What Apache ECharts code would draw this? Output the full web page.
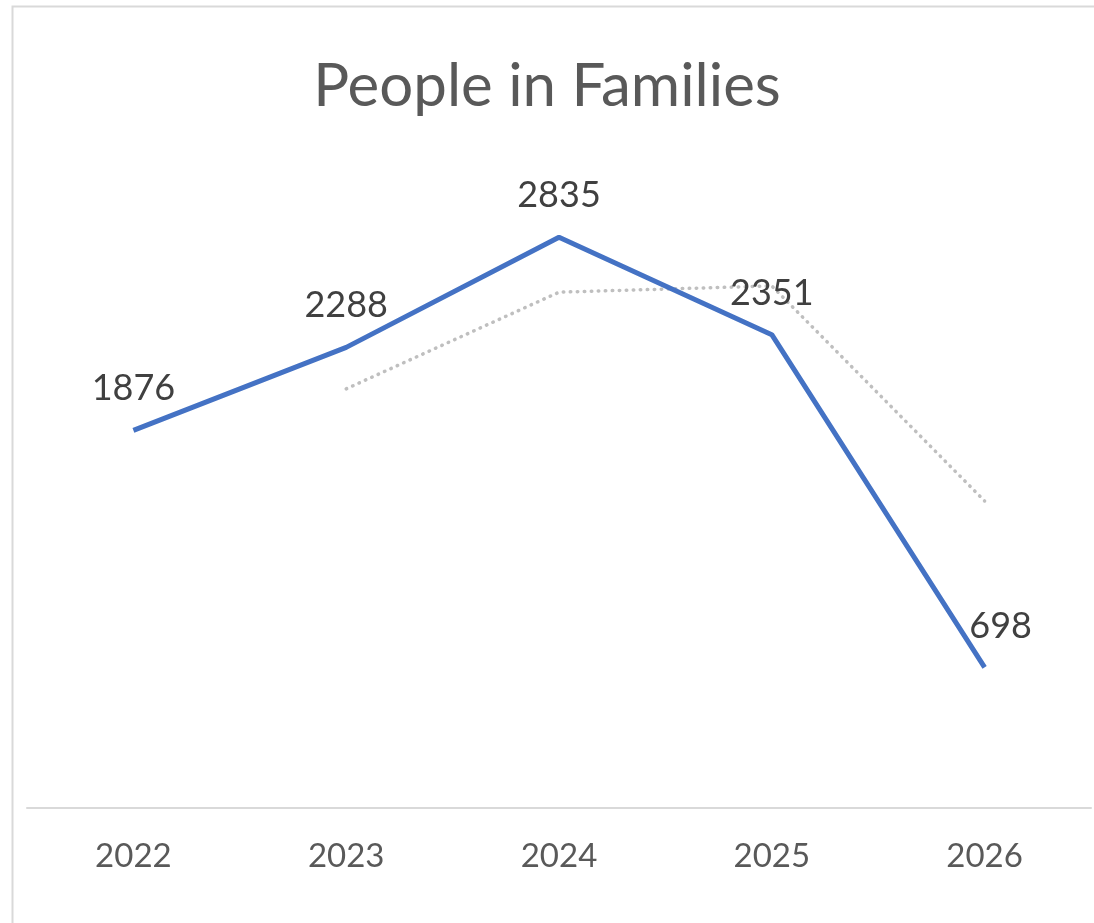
<!DOCTYPE html>
<html>
<head>
<meta charset="utf-8">
<script src="https://cdn.jsdelivr.net/npm/echarts@6/dist/echarts.min.js"></script>
<style>html,body{margin:0;padding:0;background:#fff;}#c{width:1094px;height:923px;}</style>
</head>
<body>
<div id="c"></div>
<script>
const categories = ['2022', '2023', '2024', '2025', '2026'];
const values = [1876, 2288, 2835, 2351, 698];
// 2-period moving average trendline
const trendValues = [null, 2082, 2562, 2593, 1525];
const titleText = 'People in Families';

const chart = echarts.init(document.getElementById('c'), null, {renderer: 'canvas'});
const FONT = 'Lato, "Open Sans", sans-serif';
const labelOffsets = [[0, 0], [0, 0], [0, 0], [0, 0], [16, 0]];
chart.setOption({
  animation: false,
  backgroundColor: '#fff',
  graphic: [{
    type: 'rect', left: 10, top: 4,
    shape: {width: 1100, height: 930},
    style: {fill: 'none', stroke: '#d9d9d9', lineWidth: 2},
    silent: true
  }],
  title: {
    text: titleText, left: 'center', top: 52,
    textStyle: {fontFamily: FONT, fontSize: 60, fontWeight: 'normal', color: '#595959'}
  },
  grid: {left: 27, right: 3, top: 204, bottom: 115, containLabel: false},
  xAxis: {
    type: 'category', data: categories, boundaryGap: true,
    axisLine: {show: true, lineStyle: {color: '#d9d9d9', width: 2}},
    axisTick: {show: false},
    axisLabel: {fontFamily: FONT, fontSize: 33, color: '#595959', margin: 32}
  },
  yAxis: {
    type: 'value', min: 0, max: 3000, interval: 500,
    show: false, splitLine: {show: false}
  },
  series: [{
    type: 'line', data: values.map((v, i) => ({value: v, label: {offset: labelOffsets[i]}})),
    symbol: 'circle', symbolSize: 1, showSymbol: true, z: 3,
    itemStyle: {color: 'rgba(68,114,196,0)'},
    lineStyle: {color: '#4472C4', width: 5},
    label: {show: true, position: 'top', distance: 23, fontFamily: FONT, fontSize: 36, color: '#404040'}
  }, {
    type: 'line', data: trendValues, symbol: 'none', z: 2, connectNulls: false,
    lineStyle: {color: '#bfbfbf', width: 3.5, type: [0.5, 6.5], cap: 'round'}
  }]
});
</script>
</body>
</html>
